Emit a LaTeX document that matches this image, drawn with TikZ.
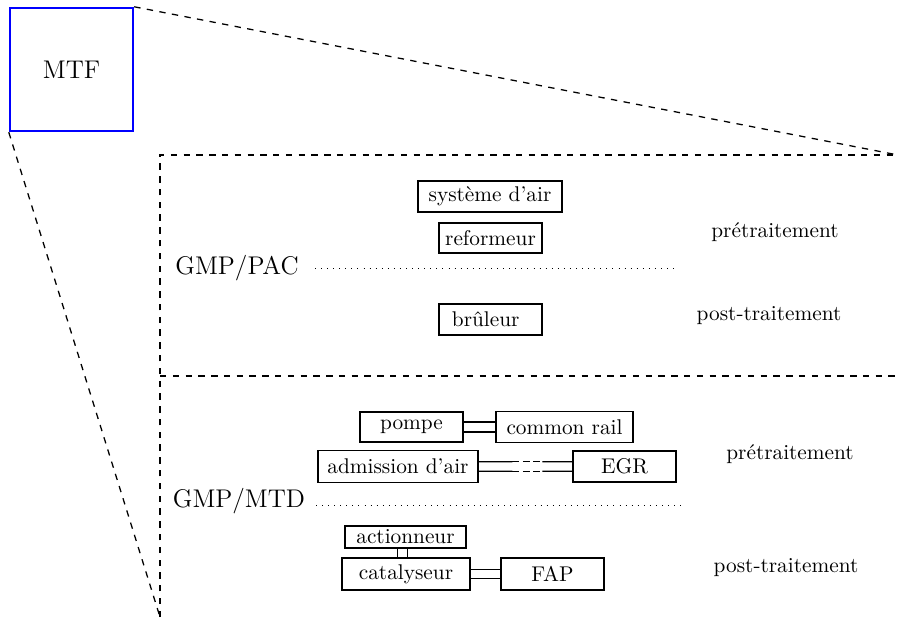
\documentclass[tikz,border=0pt]{standalone}
\usepackage{fontspec}
\usetikzlibrary{calc}
\begin{document}
\begin{tikzpicture}[x=0.4695pt, y=-0.4695pt,
  box/.style={draw, line width=0.6pt, inner sep=1pt, minimum height=14.6pt},
  ln/.style={draw, line width=0.6pt},
  dsh/.style={dashed, line width=0.6pt},
  dots/.style={line width=0.45pt, dash pattern=on 0.45pt off 2.4pt},
  lbl/.style={inner sep=0pt}]
\useasboundingbox (0,0) rectangle (898,617);

% MTF
\node[draw=blue, line width=1.2pt, minimum size=57.7pt, inner sep=0pt, font=\large] (mtf) at (71.5,69.5) {MTF};

% region corners
\coordinate (tl) at (160,155);
\coordinate (tr) at (898,155);
\coordinate (bl) at (160,617);
\coordinate (ml) at (160,376);
\coordinate (mr) at (898,376);

\draw[dsh] (mtf.north east) -- (tr);
\draw[dsh] (mtf.south west) -- (bl);
\draw[dsh] (bl) -- (tl) -- (tr);
\draw[dsh] (ml) -- (mr);

% GMP/PAC
\node[lbl, font=\large] (pac) at (237,268) {GMP/PAC};
\coordinate (pacs) at (315,268);
\coordinate (pace) at (675,268);
\draw[dots] (pacs) -- (pace);

\node[box, minimum width=67.6pt] (sys) at (490,196.5) {système d’air};
\node[box, minimum width=48.4pt, minimum height=14.1pt] (ref) at (490.5,238) {reformeur};
\node[box, minimum width=48.4pt, text width=36.2pt, inner xsep=6.1pt, align=left] (bru) at (490.5,319.5) {brûleur};

\node[lbl] (pre1) at (775,232) {prétraitement};
\node[lbl] (post1) at (769,316) {post-traitement};

% GMP/MTD
\node[lbl, font=\large] (mtd) at (239,501) {GMP/MTD};
\coordinate (mtds) at (316,505);
\coordinate (mtde) at (682,505);
\draw[dots] (mtds) -- (mtde);

\node[box, minimum width=48.4pt, minimum height=14.1pt] (pompe) at (411.5,427) {pompe};
\node[box, minimum width=64.3pt] (rail) at (564.5,427) {common rail};
\node[box, minimum width=75.1pt, minimum height=15pt] (adm) at (398,466.5) {admission d’air};
\node[box, minimum width=48.4pt] (egr) at (624.5,466.5) {EGR};
\node[box, minimum width=56.8pt, minimum height=10.3pt, inner ysep=0.5pt] (act) at (405.5,537) {actionneur};
\node[box, minimum width=60.1pt, minimum height=15pt] (cat) at (406,574) {catalyseur};
\node[box, minimum width=48.4pt, minimum height=15pt] (fap) at (552.5,574) {FAP};

% pompe -- common rail
\draw[ln] ([yshift=2.3pt]pompe.east) -- ([yshift=2.3pt]rail.west);
\draw[ln] ([yshift=-2.3pt]pompe.east) -- ([yshift=-2.3pt]rail.west);
% admission -- EGR
\coordinate (a1) at ($(adm.east)!0.36!(egr.west)$);
\coordinate (a2) at ($(adm.east)!0.68!(egr.west)$);
\draw[ln] ([yshift=2.2pt]adm.east) -- ([yshift=2.2pt]a1);
\draw[ln] ([yshift=-2.2pt]adm.east) -- ([yshift=-2.2pt]a1);
\draw[ln, dash pattern=on 3.3pt off 1.6pt] ([yshift=2.2pt]a1) -- ([yshift=2.2pt]a2);
\draw[ln, dash pattern=on 3.3pt off 1.6pt] ([yshift=-2.2pt]a1) -- ([yshift=-2.2pt]a2);
\draw[ln] ([yshift=2.2pt]a2) -- ([yshift=2.2pt]egr.west);
\draw[ln] ([yshift=-2.2pt]a2) -- ([yshift=-2.2pt]egr.west);
% actionneur -- catalyseur
\draw[ln] ([xshift=-3.6pt]act.south) -- ([xshift=-3.6pt]act.south |- cat.north);
\draw[ln] ([xshift=1.1pt]act.south) -- ([xshift=1.1pt]act.south |- cat.north);
% catalyseur -- FAP
\draw[ln] ([yshift=2.2pt]cat.east) -- ([yshift=2.2pt]fap.west);
\draw[ln] ([yshift=-2.2pt]cat.east) -- ([yshift=-2.2pt]fap.west);

\node[lbl] (pre2) at (790,454) {prétraitement};
\node[lbl] (post2) at (786,568) {post-traitement};
\end{tikzpicture}
\end{document}
